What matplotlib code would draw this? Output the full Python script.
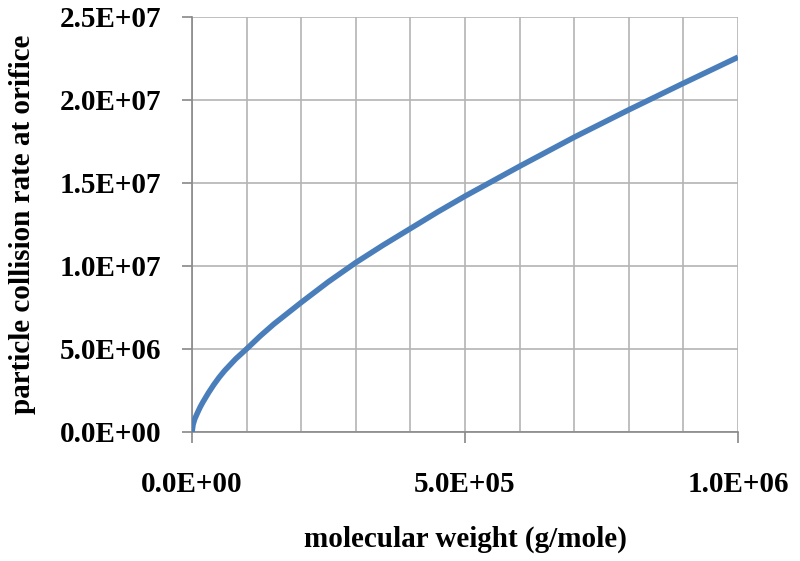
import matplotlib
matplotlib.use("agg")
import matplotlib.pyplot as plt
from matplotlib.ticker import MultipleLocator, FuncFormatter

# values
mol_weight = [0, 2e3, 5e3, 1e4, 1.5e4, 2e4, 3e4, 4e4, 5e4, 6e4, 7e4, 8e4, 9e4,
              1e5, 1.25e5, 1.5e5, 1.75e5, 2e5, 2.5e5, 3e5, 3.5e5, 4e5, 4.5e5,
              5e5, 5.5e5, 6e5, 7e5, 8e5, 9e5, 1e6]
collision_rate = [0, 0.45e6, 0.78e6, 1.15e6, 1.5e6, 1.8e6, 2.35e6, 2.85e6,
                  3.3e6, 3.7e6, 4.05e6, 4.4e6, 4.7e6, 5.0e6, 5.78e6, 6.5e6,
                  7.15e6, 7.8e6, 9.05e6, 1.02e7, 1.125e7, 1.225e7, 1.325e7,
                  1.42e7, 1.51e7, 1.6e7, 1.775e7, 1.94e7, 2.1e7, 2.257e7]

plt.rcParams['font.family'] = ['Liberation Serif', 'DejaVu Serif']

fig = plt.figure(figsize=(8, 5.61), dpi=100)
ax = fig.add_axes([0.24, 0.23, 0.6825, 0.74])

ax.plot(mol_weight, collision_rate, color='#4a7ebb', lw=4,
        solid_capstyle='butt', solid_joinstyle='round', zorder=3)

ax.set_xlim(0, 1e6)
ax.set_ylim(0, 2.5e7)
ax.xaxis.set_major_locator(MultipleLocator(5e5))
ax.xaxis.set_minor_locator(MultipleLocator(1e5))
ax.yaxis.set_major_locator(MultipleLocator(5e6))

sci = FuncFormatter(lambda v, p: ('%.1E' % v))
ax.xaxis.set_major_formatter(sci)
ax.yaxis.set_major_formatter(sci)

ax.grid(True, which='both', color='#b4b4b4', lw=1.2, zorder=0)
ax.set_axisbelow(True)
for s in ['top', 'right']:
    ax.spines[s].set_visible(False)
for s in ['left', 'bottom']:
    ax.spines[s].set_color('#888888')
    ax.spines[s].set_linewidth(1.2)

ax.tick_params(axis='x', which='major', direction='out', length=8, width=1.2,
               color='#888888', pad=20, labelsize=21)
ax.tick_params(axis='x', which='minor', length=0)
ax.tick_params(axis='y', direction='out', length=7, width=1.2,
               color='#888888', pad=15, labelsize=21)
for lbl in ax.get_xticklabels() + ax.get_yticklabels():
    lbl.set_fontweight('bold')

ax.set_xlabel('molecular weight (g/mole)', fontsize=21, fontweight='bold')
ax.xaxis.set_label_coords(0.5, -0.225)
ax.set_ylabel('particle collision rate at orifice', fontsize=21,
              fontweight='bold')
ax.yaxis.set_label_coords(-0.285, 0.5)

fig.savefig('out.png', dpi=100, facecolor='white')
